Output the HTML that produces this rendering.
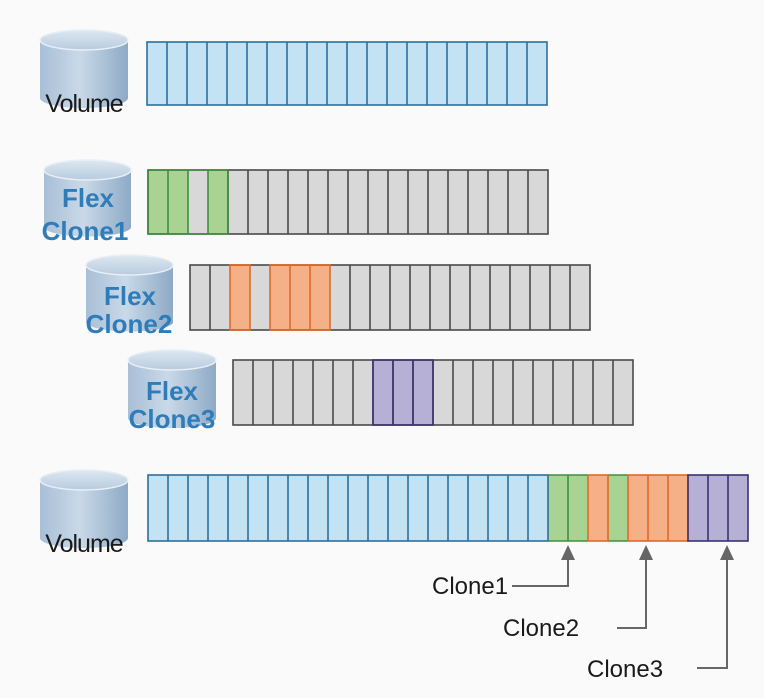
<!DOCTYPE html>
<html><head><meta charset="utf-8"><style>
html,body{margin:0;padding:0;background:#fafafa;}
svg{display:block;}
text{font-family:"Liberation Sans",Arial,sans-serif;}
</style></head><body>
<svg width="764" height="698" viewBox="0 0 764 698" xmlns="http://www.w3.org/2000/svg">
<defs>
<linearGradient id="cyl" x1="0" x2="1" y1="0" y2="0">
<stop offset="0" stop-color="#a8bfd6"/><stop offset="0.45" stop-color="#c9d9e8"/><stop offset="1" stop-color="#8eaac6"/>
</linearGradient>
<linearGradient id="top" x1="0" x2="0" y1="0" y2="1">
<stop offset="0" stop-color="#dde8f2"/><stop offset="1" stop-color="#b8cbde"/>
</linearGradient>
</defs>
<rect width="764" height="698" fill="#fafafa"/>

<!-- cylinders -->
<g>
<path d="M40,40 v58 a44,10 0 0 0 88,0 v-58 z" fill="url(#cyl)"/><ellipse cx="84" cy="40" rx="44" ry="10" fill="url(#top)" stroke="#e8eff6" stroke-width="1.5"/>
<path d="M44,170 v58 a44,10 0 0 0 87,0 v-58 z" fill="url(#cyl)"/><ellipse cx="87.5" cy="170" rx="43.5" ry="10" fill="url(#top)" stroke="#e8eff6" stroke-width="1.5"/>
<path d="M86,265 v58 a44,10 0 0 0 87,0 v-58 z" fill="url(#cyl)"/><ellipse cx="129.5" cy="265" rx="43.5" ry="10" fill="url(#top)" stroke="#e8eff6" stroke-width="1.5"/>
<path d="M128,360 v58 a44,10 0 0 0 88,0 v-58 z" fill="url(#cyl)"/><ellipse cx="172" cy="360" rx="44" ry="10" fill="url(#top)" stroke="#e8eff6" stroke-width="1.5"/>
<path d="M40,480 v58 a44,10 0 0 0 88,0 v-58 z" fill="url(#cyl)"/><ellipse cx="84" cy="480" rx="44" ry="10" fill="url(#top)" stroke="#e8eff6" stroke-width="1.5"/>
</g>
<text x="84" y="112" font-size="25" text-anchor="middle" fill="#1a1a1a" letter-spacing="-1">Volume</text>
<text x="84" y="552" font-size="25" text-anchor="middle" fill="#1a1a1a" letter-spacing="-1">Volume</text>
<g font-size="26" font-weight="bold" fill="#2f7cb8" text-anchor="middle">
<text x="88" y="207">Flex</text><text x="85" y="240">Clone1</text>
<text x="130" y="305">Flex</text><text x="129" y="333">Clone2</text>
<text x="172" y="400">Flex</text><text x="172" y="428">Clone3</text>
</g>

<!-- row1 -->
<rect x="147" y="42" width="400" height="63" fill="#c3e2f4"/>
<g fill="none" stroke="#2d6f9c" stroke-width="1.6">
<rect x="147" y="42" width="400" height="63"/>
<path d="M167,42v63M187,42v63M207,42v63M227,42v63M247,42v63M267,42v63M287,42v63M307,42v63M327,42v63M347,42v63M367,42v63M387,42v63M407,42v63M427,42v63M447,42v63M467,42v63M487,42v63M507,42v63M527,42v63"/>
</g>

<!-- row2 -->
<rect x="148" y="170" width="400" height="64" fill="#d8d8d8"/>
<rect x="148" y="170" width="40" height="64" fill="#a9d392"/>
<rect x="208" y="170" width="20" height="64" fill="#a9d392"/>
<g fill="none" stroke="#4a4a4a" stroke-width="1.6">
<path d="M228,170v64M248,170v64M268,170v64M288,170v64M308,170v64M328,170v64M348,170v64M368,170v64M388,170v64M408,170v64M428,170v64M448,170v64M468,170v64M488,170v64M508,170v64M528,170v64"/>
<rect x="148" y="170" width="400" height="64"/>
</g>
<g fill="none" stroke="#3f8f3f" stroke-width="1.6"><path d="M148,170h80M148,234h80M148,170v64M168,170v64M188,170v64M208,170v64M228,170v64"/></g>

<!-- row3 -->
<rect x="190" y="265" width="400" height="65" fill="#d8d8d8"/>
<rect x="230" y="265" width="20" height="65" fill="#f5b088"/>
<rect x="270" y="265" width="60" height="65" fill="#f5b088"/>
<g fill="none" stroke="#4a4a4a" stroke-width="1.6">
<path d="M210,265v65M350,265v65M370,265v65M390,265v65M410,265v65M430,265v65M450,265v65M470,265v65M490,265v65M510,265v65M530,265v65M550,265v65M570,265v65"/>
<rect x="190" y="265" width="400" height="65"/>
</g>
<g fill="none" stroke="#e06a2a" stroke-width="1.6"><rect x="230" y="265" width="20" height="65"/><rect x="270" y="265" width="60" height="65"/><path d="M290,265v65M310,265v65"/></g>

<!-- row4 -->
<rect x="233" y="360" width="400" height="65" fill="#d8d8d8"/>
<rect x="373" y="360" width="60" height="65" fill="#b6b0d4"/>
<g fill="none" stroke="#4a4a4a" stroke-width="1.6">
<path d="M253,360v65M273,360v65M293,360v65M313,360v65M333,360v65M353,360v65M373,360v65M393,360v65M413,360v65M433,360v65M453,360v65M473,360v65M493,360v65M513,360v65M533,360v65M553,360v65M573,360v65M593,360v65M613,360v65"/>
<rect x="233" y="360" width="400" height="65"/>
</g>
<g fill="none" stroke="#3a3472" stroke-width="1.6"><rect x="373" y="360" width="60" height="65"/><path d="M393,360v65M413,360v65"/></g>

<!-- row5 -->
<rect x="148" y="475" width="400" height="66" fill="#c3e2f4"/>
<rect x="548" y="475" width="40" height="66" fill="#a9d392"/>
<rect x="588" y="475" width="20" height="66" fill="#f5b088"/>
<rect x="608" y="475" width="20" height="66" fill="#a9d392"/>
<rect x="628" y="475" width="60" height="66" fill="#f5b088"/>
<rect x="688" y="475" width="60" height="66" fill="#b6b0d4"/>
<g fill="none" stroke="#2d6f9c" stroke-width="1.6">
<rect x="148" y="475" width="400" height="66"/>
<path d="M168,475v66M188,475v66M208,475v66M228,475v66M248,475v66M268,475v66M288,475v66M308,475v66M328,475v66M348,475v66M368,475v66M388,475v66M408,475v66M428,475v66M448,475v66M468,475v66M488,475v66M508,475v66M528,475v66"/>
</g>
<g fill="none" stroke="#3f8f3f" stroke-width="1.6"><path d="M548,475h40M548,541h40M568,475v66M608,475h20M608,541h20"/></g>
<g fill="none" stroke="#e06a2a" stroke-width="1.6"><rect x="588" y="475" width="20" height="66"/><rect x="628" y="475" width="60" height="66"/><path d="M648,475v66M668,475v66"/></g>
<g fill="none" stroke="#3a3472" stroke-width="1.6"><rect x="688" y="475" width="60" height="66"/><path d="M708,475v66M728,475v66"/></g>

<!-- arrows -->
<g fill="none" stroke="#666" stroke-width="2">
<path d="M512,586H568V552"/>
<path d="M617,628H646V552"/>
<path d="M697,668H727V552"/>
</g>
<g fill="#666">
<path d="M561,560L568,545L575,560Z"/>
<path d="M639,560L646,545L653,560Z"/>
<path d="M720,560L727,545L734,560Z"/>
</g>
<g font-size="24" fill="#1a1a1a">
<text x="432" y="594">Clone1</text>
<text x="503" y="636">Clone2</text>
<text x="587" y="677">Clone3</text>
</g>
</svg>
</body></html>
